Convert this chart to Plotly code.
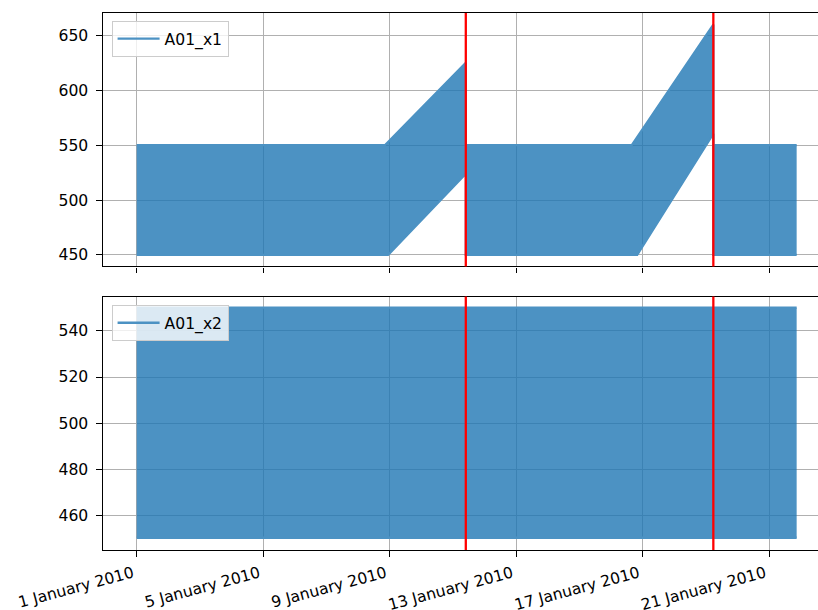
import plotly.graph_objects as go

# ---- A01_x1: outer envelope of the oscillating signal (upper / lower edge) ----
x1_upper_t = ["2010-01-01 00:00", "2010-01-08 20:24", "2010-01-11 09:50",
              "2010-01-11 09:50", "2010-01-16 15:50", "2010-01-19 05:45",
              "2010-01-19 05:45", "2010-01-21 21:00"]
x1_upper = [550, 550, 625, 550, 550, 660, 550, 550]

x1_lower_t = ["2010-01-01 00:00", "2010-01-08 22:50", "2010-01-11 09:50",
              "2010-01-11 09:50", "2010-01-16 19:55", "2010-01-19 05:45",
              "2010-01-19 05:45", "2010-01-21 21:00"]
x1_lower = [450, 450, 524, 450, 450, 560.5, 450, 450]

# ---- A01_x2: outer envelope ----
x2_upper_t = ["2010-01-01 00:00", "2010-01-21 21:00"]
x2_upper = [550, 550]
x2_lower_t = ["2010-01-01 00:00", "2010-01-21 21:00"]
x2_lower = [450.5, 450.5]

# detected change points
event_times = ["2010-01-11 09:50", "2010-01-19 05:45"]

tick_dates = ["2010-01-01", "2010-01-05", "2010-01-09",
              "2010-01-13", "2010-01-17", "2010-01-21"]
y1_ticks = [450, 500, 550, 600, 650]
y2_ticks = [460, 480, 500, 520, 540]

BLUE_LINE = "rgb(76,146,195)"
BLUE_FILL = "rgba(31,119,180,0.8)"
FONT = "DejaVu Sans"
FS = 15.6

fig = go.Figure()


def add_band(t_up, up, t_lo, lo, name, xa, ya, legend):
    fig.add_trace(go.Scatter(
        x=t_up, y=up, mode="lines", name=name,
        line=dict(color=BLUE_LINE, width=2.3),
        xaxis=xa, yaxis=ya, legend=legend, showlegend=True,
    ))
    fig.add_trace(go.Scatter(
        x=t_lo, y=lo, mode="lines", name=name,
        line=dict(color=BLUE_LINE, width=2.3),
        fill="tonexty", fillcolor=BLUE_FILL,
        xaxis=xa, yaxis=ya, showlegend=False,
    ))


add_band(x1_upper_t, x1_upper, x1_lower_t, x1_lower, "A01_x1", "x", "y", "legend")
add_band(x2_upper_t, x2_upper, x2_lower_t, x2_lower, "A01_x2", "x2", "y2", "legend2")

# vertical change-point markers in both panels
for xref, yref in (("x", "y domain"), ("x2", "y2 domain")):
    for t in event_times:
        fig.add_shape(type="line", xref=xref, yref=yref,
                      x0=t, x1=t, y0=0, y1=1,
                      line=dict(color="#ff0000", width=2.3), layer="above")

x_range = ["2009-12-30 22:25", "2010-01-22 13:12"]

common_x = dict(
    range=x_range, type="date", tickvals=tick_dates,
    showgrid=True, gridcolor="#b0b0b0", gridwidth=1.2,
    showline=True, linecolor="black", linewidth=1.2, mirror=True,
    ticks="outside", ticklen=5.5, tickwidth=1.2, tickcolor="black",
    zeroline=False, automargin=False,
    tickfont=dict(family=FONT, size=FS, color="black"),
)
common_y = dict(
    showgrid=True, gridcolor="#b0b0b0", gridwidth=1.2,
    showline=True, linecolor="black", linewidth=1.2, mirror=False,
    ticks="outside", ticklen=5.5, tickwidth=1.2, tickcolor="black",
    zeroline=False, automargin=False, ticklabelstandoff=5,
    tickfont=dict(family=FONT, size=FS, color="black"),
)

legend_style = dict(
    bgcolor="rgba(255,255,255,0.8)", bordercolor="#cccccc", borderwidth=1,
    font=dict(family=FONT, size=FS, color="black"),
    xanchor="left", yanchor="top", itemwidth=42,
    tracegroupgap=0,
)

fig.update_layout(
    template="none",
    width=818, height=610, autosize=False,
    margin=dict(l=103, r=0, t=13, b=60),
    paper_bgcolor="white", plot_bgcolor="white",
    font=dict(family=FONT, size=FS, color="black"),
    xaxis=dict(common_x, anchor="y", domain=[0, 1], showticklabels=False, matches="x2"),
    yaxis=dict(common_y, anchor="x", domain=[0.528, 1], range=[439.5, 670.5],
               tickvals=y1_ticks),
    xaxis2=dict(common_x, anchor="y2", domain=[0, 1], tickformat="%-d %B %Y",
                tickangle=-15, ticklabelshift=-4, ticklabelstandoff=2),
    yaxis2=dict(common_y, anchor="x2", domain=[0, 0.472], range=[445.2, 554.8],
                tickvals=y2_ticks),
    legend=dict(legend_style, x=0.012, y=0.985),
    legend2=dict(legend_style, x=0.012, y=0.456),
    showlegend=True,
)

fig.write_html("out.html")
